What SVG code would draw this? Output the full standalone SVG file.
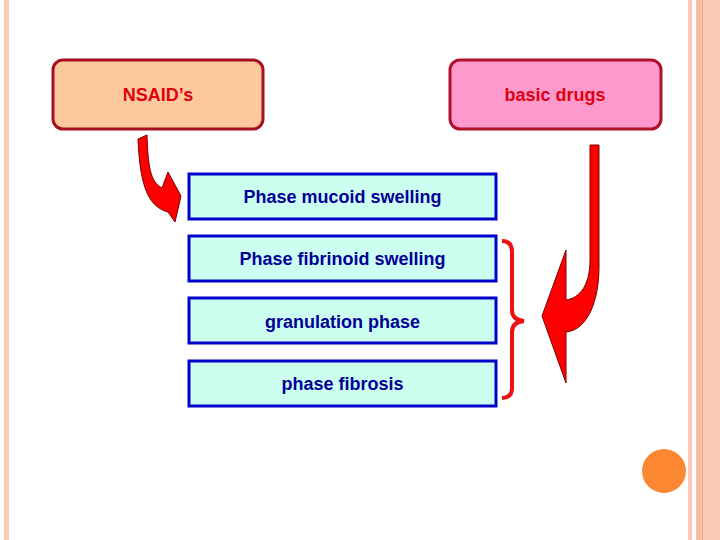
<svg xmlns="http://www.w3.org/2000/svg" width="720" height="540" viewBox="0 0 720 540">
<style>
.lbl{font-family:"Liberation Sans",Arial,sans-serif;font-weight:bold;text-anchor:middle}
.top{font-size:18px;fill:#e00010}
.ph{font-size:18px;fill:#000099}
.phbox{fill:#ccfff0;stroke:#0000cc;stroke-width:3}
.arrow{fill:#ff0000;stroke:#7a0000;stroke-width:1}
</style>
<rect width="720" height="540" fill="#ffffff"/>
<g id="decor">
<rect x="4" y="0" width="5" height="540" fill="#fbc9b5"/>
<rect x="688" y="0" width="4" height="540" fill="#fbc9b5"/>
<rect x="696" y="0" width="24" height="540" fill="#fbc9b5"/>
<rect x="696" y="0" width="5" height="540" fill="#f8bca6"/>
<line x1="702.5" y1="0" x2="702.5" y2="540" stroke="#f2a080" stroke-width="1"/>
<circle cx="664" cy="471" r="22" fill="#fd8833"/>
</g>
<g id="nsaids">
<rect x="53" y="60" width="210" height="69" rx="10" fill="#fdc99c" stroke="#a81020" stroke-width="3"/>
<text class="lbl top" x="158" y="101">NSAID’s</text>
</g>
<g id="basic-drugs">
<rect x="450" y="60" width="211" height="69" rx="10" fill="#fd99cc" stroke="#b0102a" stroke-width="3"/>
<text class="lbl top" x="555" y="101">basic drugs</text>
</g>
<g id="phase-mucoid">
<rect class="phbox" x="189" y="174" width="307" height="45"/>
<text class="lbl ph" x="342.5" y="203">Phase mucoid swelling</text>
</g>
<g id="phase-fibrinoid">
<rect class="phbox" x="189" y="236" width="307" height="45"/>
<text class="lbl ph" x="342.5" y="265">Phase fibrinoid swelling</text>
</g>
<g id="granulation">
<rect class="phbox" x="189" y="298" width="307" height="45"/>
<text class="lbl ph" x="342.5" y="328">granulation phase</text>
</g>
<g id="fibrosis">
<rect class="phbox" x="189" y="361" width="307" height="45"/>
<text class="lbl ph" x="342.5" y="390">phase fibrosis</text>
</g>
<g id="connectors">
<path class="arrow" d="M138,139 L147,135 C148,165 150,182 162,188 L168,172 L181,196 L175,222 L168,212 C150,207 140,190 138,139 Z"/>
<path class="arrow" d="M590,145 L599,145 L599,267 C599,300 588,330 566,332 L566,383 L542,316 L566,250 L566,300 C580,298 590,285 590,260 Z"/>
<path d="M502,241 Q512,241 512,252 L512,310 Q512,320 524,321 Q512,322 512,332 L512,388 Q512,398 502,398" fill="none" stroke="#ee1111" stroke-width="4"/>
</g>
</svg>
